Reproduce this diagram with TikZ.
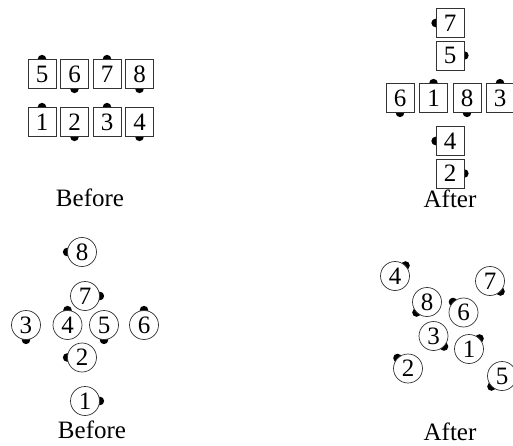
\documentclass[tikz,border=0pt]{standalone}
\usepackage{fontspec}
\setmainfont{Liberation Serif}
\usetikzlibrary{backgrounds}
\begin{document}
\begin{tikzpicture}[x=1pt,y=-1pt,
  sq/.style={draw=black!80, line width=0.7pt, fill=white, minimum width=28pt, minimum height=29pt, inner sep=0pt, font=\fontsize{25}{25}\selectfont},
  cir/.style={draw=black!80, line width=0.7pt, circle, fill=white, minimum size=29pt, inner sep=0pt, font=\fontsize{25}{25}\selectfont},
  lbl/.style={inner sep=0pt, font=\fontsize{25}{25}\selectfont},
  pin/.style={fill=black}]
\useasboundingbox (0,0) rectangle (513,446);
\newcommand\pinat[1]{\begin{scope}[on background layer]\fill[pin] (#1) circle (4.3pt);\end{scope}}
% top left: before
\node[sq] (a5) at (42,74) {5};
\node[sq] (a6) at (74.5,74) {6};
\node[sq] (a7) at (107,74) {7};
\node[sq] (a8) at (139.5,74) {8};
\node[sq] (a1) at (42,122) {1};
\node[sq] (a2) at (74.5,122) {2};
\node[sq] (a3) at (107,122) {3};
\node[sq] (a4) at (139.5,122) {4};
\pinat{a5.north}\pinat{a6.south}\pinat{a7.north}\pinat{a8.south}
\pinat{a1.north}\pinat{a2.south}\pinat{a3.north}\pinat{a4.south}
\node[lbl] (l1) at (90,198) {Before};
% top right: after
\node[sq] (b7) at (450,23) {7};
\node[sq] (b5) at (450,55.5) {5};
\node[sq] (b6) at (400,98) {6};
\node[sq] (b1) at (433.5,98) {1};
\node[sq] (b8) at (467,98) {8};
\node[sq] (b3) at (500,98) {3};
\node[sq] (b4) at (450,141) {4};
\node[sq] (b2) at (450,173.5) {2};
\pinat{b7.west}\pinat{b5.east}\pinat{b6.south}\pinat{b1.north}
\pinat{b8.south}\pinat{b3.north}\pinat{b4.west}\pinat{b2.east}
\node[lbl] (l2) at (450,199) {After};
% bottom left: before
\node[cir] (c8) at (82,252) {8};
\node[cir] (c7) at (85,296) {7};
\node[cir] (c3) at (26,325) {3};
\node[cir] (c4) at (67.5,325) {4};
\node[cir] (c5) at (104,325) {5};
\node[cir] (c6) at (144,325) {6};
\node[cir] (c2) at (82,357.5) {2};
\node[cir] (c1) at (85,401) {1};
\pinat{c8.west}\pinat{c7.east}\pinat{c3.south}\pinat{c4.north}
\pinat{c5.south}\pinat{c6.north}\pinat{c2.west}\pinat{c1.east}
\node[lbl] (l3) at (92,430) {Before};
% bottom right: after
\node[cir] (d4) at (395,276) {4};
\node[cir] (d7) at (490,281) {7};
\node[cir] (d8) at (427,302) {8};
\node[cir] (d6) at (463.5,312.5) {6};
\node[cir] (d3) at (433.5,336) {3};
\node[cir] (d1) at (469,349) {1};
\node[cir] (d2) at (408,368.5) {2};
\node[cir] (d5) at (502,376) {5};
\pinat{d4.45}\pinat{d7.-45}\pinat{d8.-135}\pinat{d6.135}
\pinat{d3.-45}\pinat{d1.45}\pinat{d2.135}\pinat{d5.-135}
\node[lbl] (l4) at (450,432) {After};
\end{tikzpicture}
\end{document}
